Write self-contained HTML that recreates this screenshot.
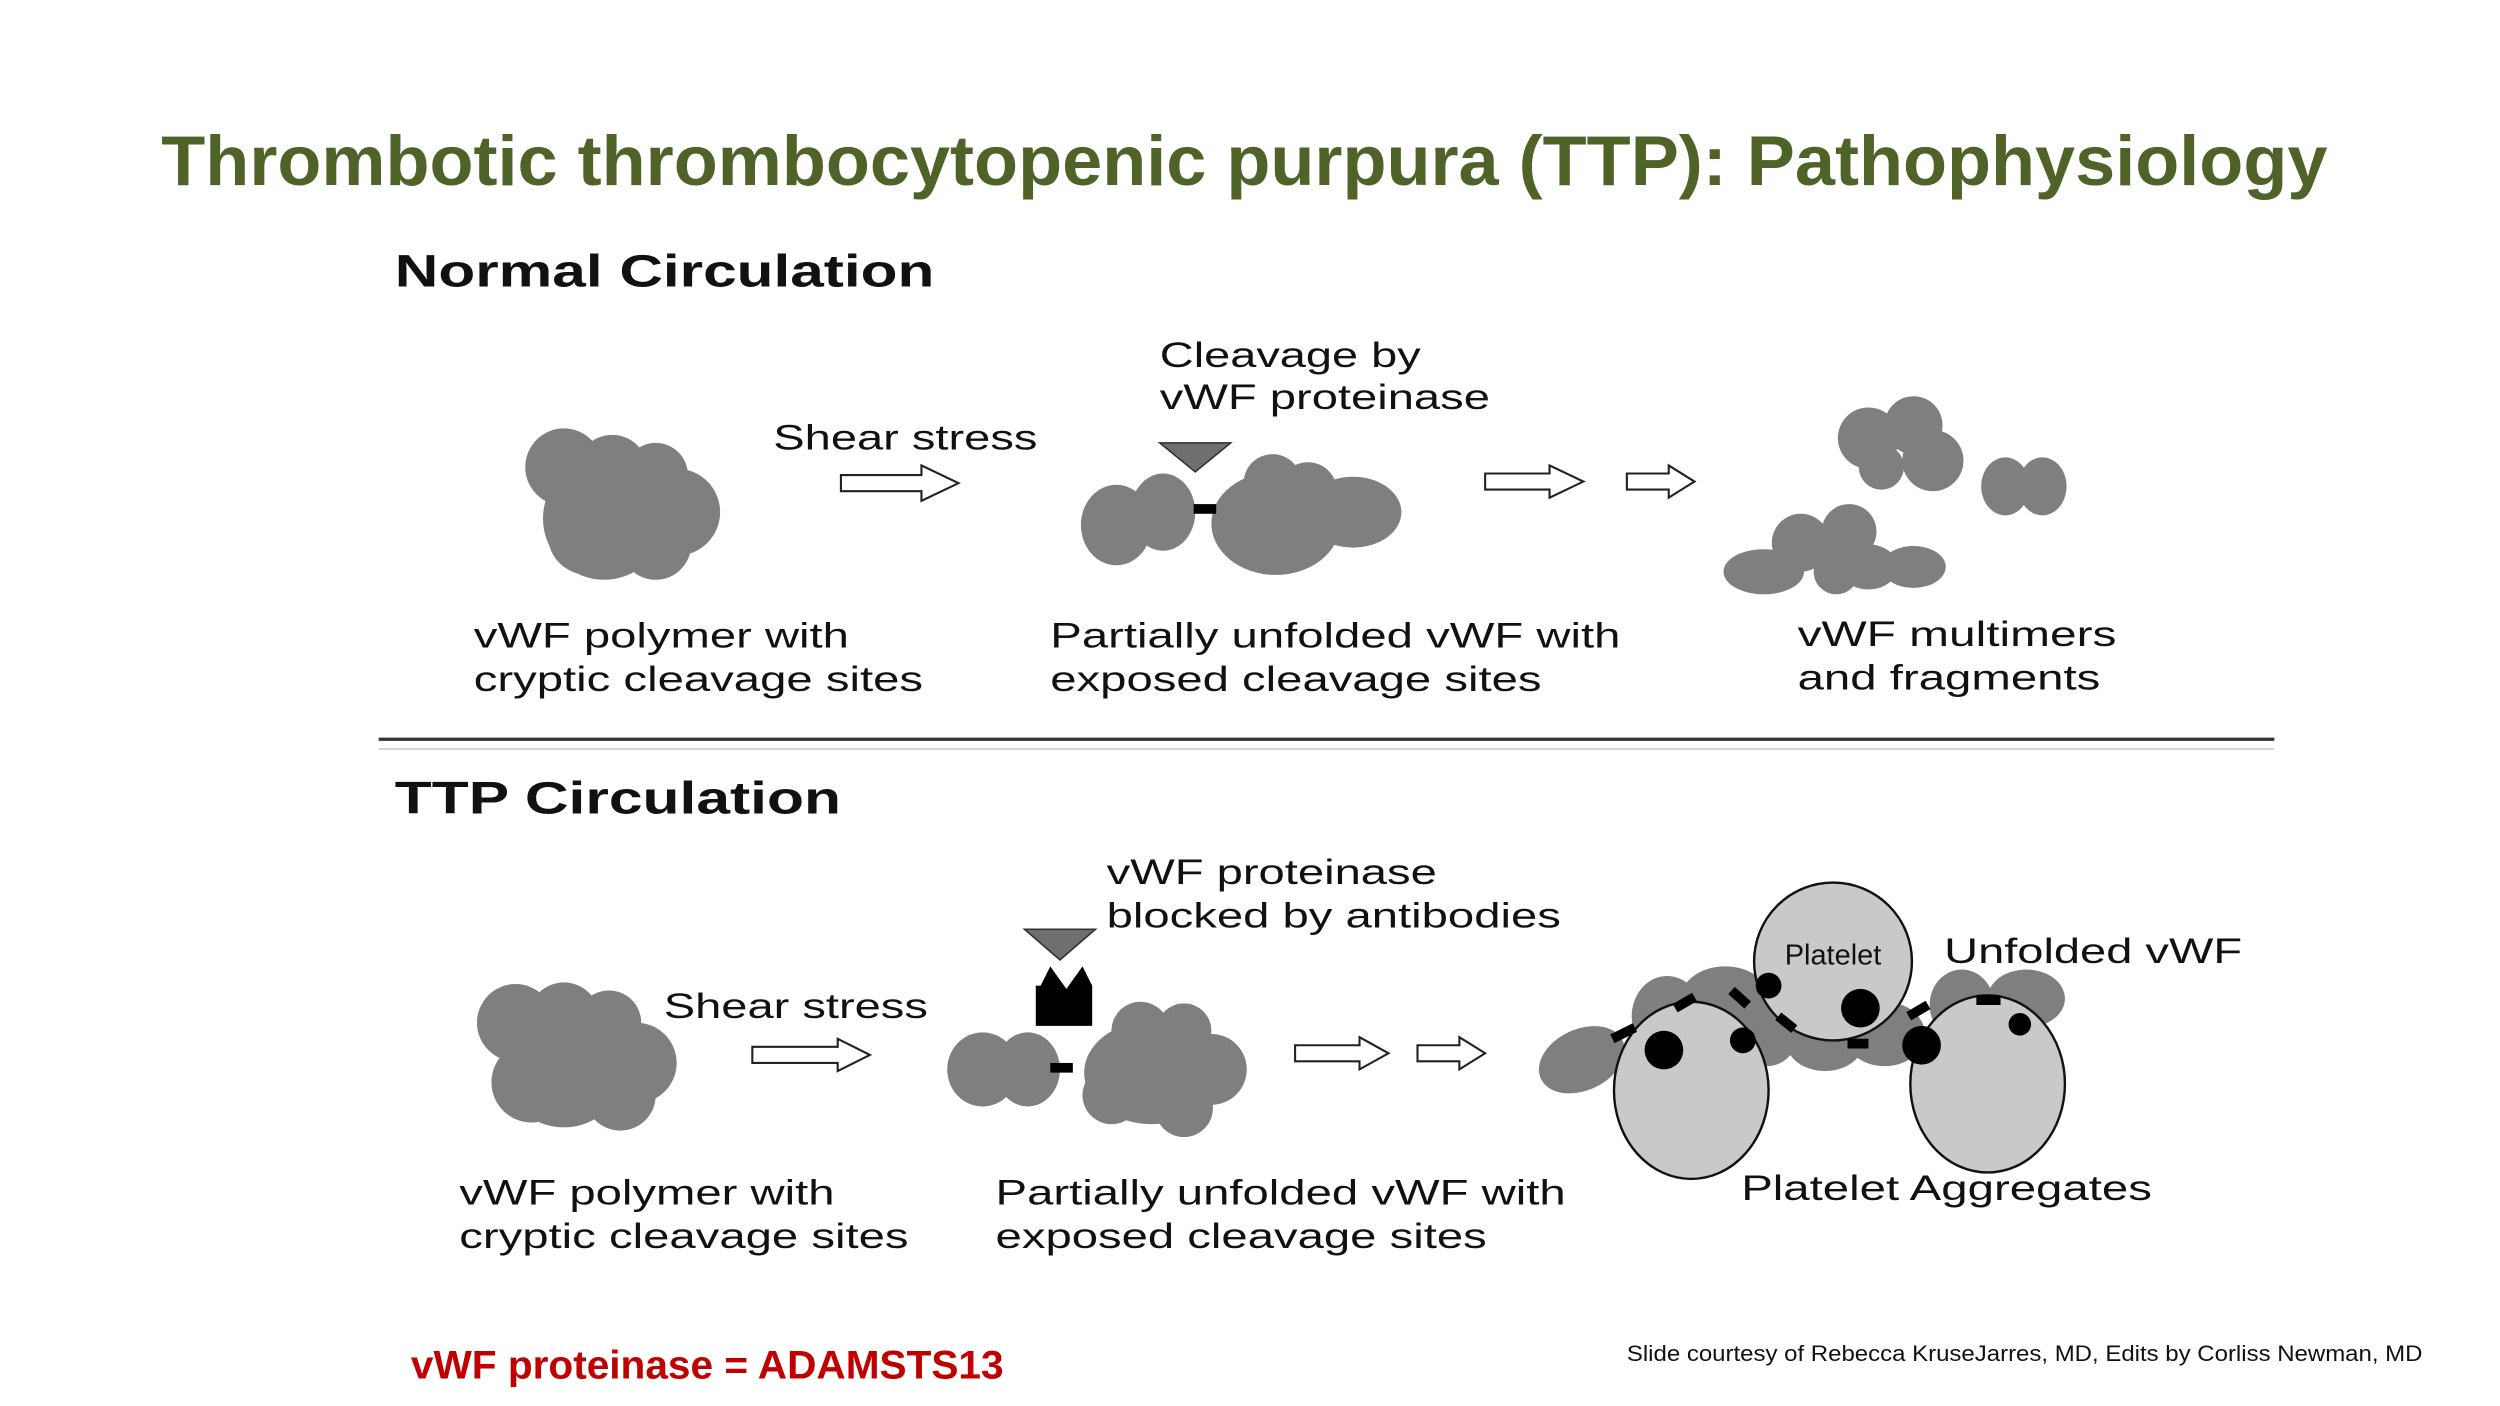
<!DOCTYPE html>
<html><head><meta charset="utf-8"><style>
html,body{margin:0;padding:0;background:#fff;}
svg{display:block;}
text{font-family:"Liberation Sans",Arial,sans-serif;}
</style></head><body>
<svg width="2500" height="1406" viewBox="0 0 1552 873" xmlns="http://www.w3.org/2000/svg">
<rect width="1552" height="873" fill="#fff"/>
<text x="100" y="115" font-size="44" font-weight="bold" fill="#4f6228" textLength="1345" lengthAdjust="spacingAndGlyphs">Thrombotic thrombocytopenic purpura (TTP): Pathophysiology</text>

<text x="245" y="178" font-size="28" font-weight="bold" fill="#111" textLength="335" lengthAdjust="spacingAndGlyphs">Normal Circulation</text>
<g fill="#7f7f7f">
<circle cx="350" cy="290" r="24"/><circle cx="380" cy="292" r="22"/><circle cx="407" cy="295" r="20"/>
<circle cx="375" cy="322" r="38"/><circle cx="420" cy="318" r="27"/><circle cx="407" cy="338" r="22"/><circle cx="365" cy="332" r="25"/>
</g>
<g font-size="22" fill="#111">
<text x="480" y="279" textLength="164" lengthAdjust="spacingAndGlyphs">Shear stress</text>
<text x="720" y="228" textLength="162" lengthAdjust="spacingAndGlyphs">Cleavage by</text>
<text x="720" y="254" textLength="205" lengthAdjust="spacingAndGlyphs">vWF proteinase</text>
<text x="294" y="402" textLength="233" lengthAdjust="spacingAndGlyphs">vWF polymer with</text>
<text x="294" y="429" textLength="279" lengthAdjust="spacingAndGlyphs">cryptic cleavage sites</text>
<text x="652" y="402" textLength="354" lengthAdjust="spacingAndGlyphs">Partially unfolded vWF with</text>
<text x="652" y="429" textLength="305" lengthAdjust="spacingAndGlyphs">exposed cleavage sites</text>
<text x="1116" y="401" textLength="198" lengthAdjust="spacingAndGlyphs">vWF multimers</text>
<text x="1116" y="428" textLength="188" lengthAdjust="spacingAndGlyphs">and fragments</text>
</g>
<g fill="#fff" stroke="#222" stroke-width="1.3">
<polygon points="522,295 572,295 572,289 595,300 572,311 572,305 522,305"/>
<polygon points="922,294 962,294 962,289 983,299 962,309 962,304 922,304"/>
<polygon points="1010,294 1036,294 1036,289 1052,299 1036,309 1036,304 1010,304"/>
<polygon points="804,649 844,649 844,644 862,654 844,664 844,659 804,659"/>
<polygon points="880,649 906,649 906,644 922,654 906,664 906,659 880,659"/>
<polygon points="467,650 520,650 520,645 540,655 520,665 520,660 467,660"/>
</g>
<polygon points="720,275 764,275 742,293" fill="#6f6f6f" stroke="#333" stroke-width="1"/>
<g fill="#7f7f7f">
<ellipse cx="693" cy="326" rx="22" ry="25"/><ellipse cx="722" cy="318" rx="20" ry="24"/>
<circle cx="790" cy="300" r="18"/><ellipse cx="792" cy="325" rx="40" ry="32"/><ellipse cx="840" cy="318" rx="30" ry="22"/><circle cx="812" cy="305" r="18"/>
<circle cx="1160" cy="272" r="19"/><circle cx="1188" cy="264" r="18"/><circle cx="1200" cy="286" r="19"/><circle cx="1168" cy="290" r="14"/>
<ellipse cx="1245" cy="302" rx="15" ry="18"/><ellipse cx="1268" cy="302" rx="15" ry="18"/>
<ellipse cx="1095" cy="355" rx="25" ry="14"/><circle cx="1118" cy="337" r="18"/><circle cx="1148" cy="330" r="17"/><circle cx="1140" cy="355" r="14"/><ellipse cx="1160" cy="352" rx="18" ry="14"/><ellipse cx="1188" cy="352" rx="20" ry="13"/>
</g>
<rect x="741" y="313" width="14" height="6" fill="#000"/>
<line x1="235" y1="459" x2="1412" y2="459" stroke="#333" stroke-width="2"/>
<line x1="235" y1="465" x2="1412" y2="465" stroke="#ccc" stroke-width="1"/>

<text x="245" y="505" font-size="28" font-weight="bold" fill="#111" textLength="277" lengthAdjust="spacingAndGlyphs">TTP Circulation</text>
<g fill="#7f7f7f">
<circle cx="320" cy="635" r="24"/><circle cx="350" cy="632" r="22"/><circle cx="378" cy="635" r="20"/>
<circle cx="350" cy="662" r="38"/><circle cx="395" cy="660" r="25"/><circle cx="385" cy="680" r="22"/><circle cx="330" cy="672" r="25"/>
<ellipse cx="610" cy="664" rx="22" ry="23"/><ellipse cx="638" cy="664" rx="20" ry="23"/>
<circle cx="708" cy="640" r="18"/><circle cx="735" cy="640" r="17"/><ellipse cx="715" cy="666" rx="42" ry="32"/><circle cx="752" cy="664" r="22"/><circle cx="735" cy="688" r="18"/><circle cx="690" cy="680" r="18"/>
</g>
<rect x="652" y="660" width="14" height="6" fill="#000"/>
<polygon points="636,577 680,577 658,596" fill="#6f6f6f" stroke="#333" stroke-width="1"/>
<polygon points="643,637 678,637 678,612 672,600 662,614 652,600 646,612 643,612" fill="#000"/>
<g font-size="22" fill="#111">
<text x="412" y="632" textLength="164" lengthAdjust="spacingAndGlyphs">Shear stress</text>
<text x="687" y="549" textLength="205" lengthAdjust="spacingAndGlyphs">vWF proteinase</text>
<text x="687" y="576" textLength="282" lengthAdjust="spacingAndGlyphs">blocked by antibodies</text>
<text x="1207" y="598" textLength="185" lengthAdjust="spacingAndGlyphs">Unfolded vWF</text>
<text x="1081" y="745" textLength="255" lengthAdjust="spacingAndGlyphs">Platelet Aggregates</text>
<text x="285" y="748" textLength="233" lengthAdjust="spacingAndGlyphs">vWF polymer with</text>
<text x="285" y="775" textLength="279" lengthAdjust="spacingAndGlyphs">cryptic cleavage sites</text>
<text x="618" y="748" textLength="354" lengthAdjust="spacingAndGlyphs">Partially unfolded vWF with</text>
<text x="618" y="775" textLength="305" lengthAdjust="spacingAndGlyphs">exposed cleavage sites</text>
</g>
<!-- aggregates -->
<g fill="#7f7f7f">
<ellipse cx="982" cy="658" rx="28" ry="19" transform="rotate(-25 982 658)"/>
<ellipse cx="1035" cy="631" rx="22" ry="25"/>
<ellipse cx="1071" cy="621" rx="28" ry="21"/>
<ellipse cx="1097" cy="640" rx="20" ry="22"/>
<ellipse cx="1133" cy="647" rx="24" ry="18"/>
<ellipse cx="1170" cy="642" rx="25" ry="20"/>
<ellipse cx="1218" cy="624" rx="20" ry="22"/>
<ellipse cx="1258" cy="620" rx="24" ry="18"/>
</g>
<g fill="#c9c9c9" stroke="#111" stroke-width="1.5">
<circle cx="1138" cy="597" r="49"/>
<ellipse cx="1050" cy="677" rx="48" ry="55"/>
<ellipse cx="1234" cy="673" rx="48" ry="55"/>
</g>
<text x="1138" y="599" font-size="18" fill="#111" text-anchor="middle">Platelet</text>
<g fill="#000">
<circle cx="1033" cy="652" r="12"/><circle cx="1082" cy="646" r="8"/><circle cx="1098" cy="612" r="8"/>
<circle cx="1155" cy="626" r="12"/><circle cx="1193" cy="649" r="12"/><circle cx="1254" cy="636" r="7"/>
</g>
<g stroke="#000" stroke-width="6">
<line x1="1001" y1="645" x2="1015" y2="638"/><line x1="1040" y1="626" x2="1052" y2="619"/>
<line x1="1075" y1="615" x2="1085" y2="624"/><line x1="1104" y1="631" x2="1114" y2="639"/>
<line x1="1147" y1="648" x2="1160" y2="648"/><line x1="1185" y1="631" x2="1197" y2="624"/>
<line x1="1227" y1="621" x2="1242" y2="621"/>
</g>

<text x="255" y="856" font-size="25" font-weight="bold" fill="#c00000" textLength="368" lengthAdjust="spacingAndGlyphs">vWF proteinase = ADAMSTS13</text>
<text x="1010" y="845" font-size="14" fill="#111" textLength="494" lengthAdjust="spacingAndGlyphs">Slide courtesy of Rebecca KruseJarres, MD, Edits by Corliss Newman, MD</text>
</svg>
</body></html>
